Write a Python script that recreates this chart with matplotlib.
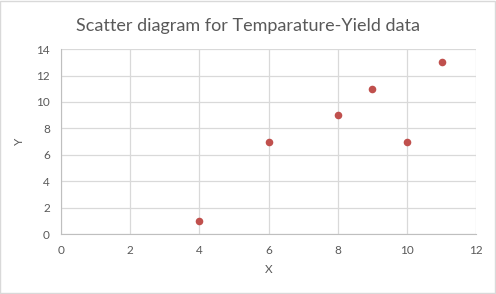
import matplotlib
matplotlib.use('Agg')
import matplotlib.pyplot as plt
from matplotlib.patches import Rectangle

x_vals = [4, 6, 8, 9, 10, 11]
y_vals = [1, 7, 9, 11, 7, 13]
x_ticks = [0, 2, 4, 6, 8, 10, 12]
y_ticks = [0, 2, 4, 6, 8, 10, 12, 14]
title = 'Scatter diagram for Temparature-Yield data'

plt.rcParams['font.family'] = ['Lato', 'DejaVu Sans']

fig = plt.figure(figsize=(4.96, 2.94), dpi=100)
fig.patches.append(Rectangle((0.001, 0.002), 0.997, 0.995, transform=fig.transFigure,
                             fill=False, edgecolor='#d9d9d9', linewidth=1))
ax = fig.add_axes([0.123, 0.204, 0.837, 0.629])

ax.scatter(x_vals, y_vals, s=30, color='#c0504d', zorder=3, linewidths=0)
ax.set_xlim(0, 12)
ax.set_ylim(0, 14)
ax.set_xticks(x_ticks)
ax.set_yticks(y_ticks)
ax.grid(True, color='#d9d9d9', linewidth=0.9)
ax.set_axisbelow(True)
for s in ['top', 'right']:
    ax.spines[s].set_visible(False)
for s in ['left', 'bottom']:
    ax.spines[s].set_color('#bfbfbf')
ax.tick_params(length=0, labelsize=8.5, labelcolor='#595959', pad=8)
ax.set_xlabel('X', fontsize=8.5, color='#595959', labelpad=6)
ax.set_ylabel('Y', fontsize=8.5, color='#595959', labelpad=8)
fig.text(0.5, 0.91, title, ha='center', va='center', fontsize=13, color='#595959')

fig.savefig('out.png', dpi=100)
